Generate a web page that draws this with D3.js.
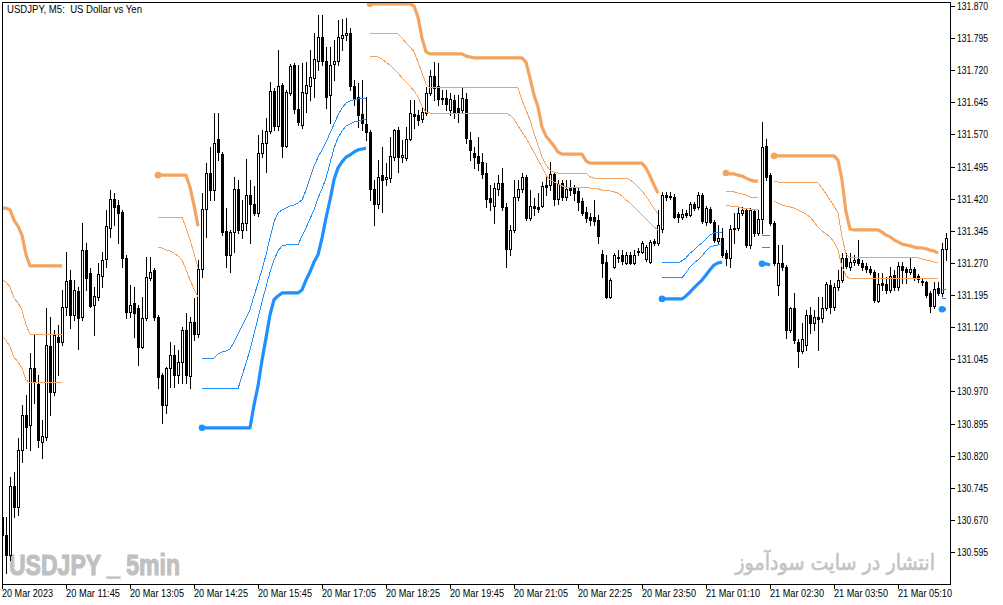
<!DOCTYPE html>
<meta charset="utf-8">
<style>

body {
  margin: 0;
  background: #fff;
}

.frame {
  fill: none;
  stroke: #000;
  stroke-width: 1;
  shape-rendering: crispEdges;
}

.wick {
  stroke: #000;
  stroke-width: 1;
  shape-rendering: crispEdges;
}

.bull {
  fill: #fff;
  stroke: #000;
  stroke-width: 1;
  shape-rendering: crispEdges;
}

.bear {
  fill: #000;
  shape-rendering: crispEdges;
}

.sell {
  fill: none;
  stroke: #f4a460;
}

.buy {
  fill: none;
  stroke: #1e90ff;
}

.thick {
  stroke-width: 3.2;
  stroke-linejoin: round;
}

.thin {
  stroke-width: 1;
  shape-rendering: crispEdges;
}

.tick {
  stroke: #000;
  shape-rendering: crispEdges;
}

.label {
  font-family: "Liberation Sans", Arial, sans-serif;
  font-size: 10px;
  fill: #000;
}

</style>

<svg id="chart" width="1003" height="605"></svg>
<script src="https://d3js.org/d3.v7.min.js"></script>

<script>

// time axis labels and the bar they sit on
var tickBars = [0, 16, 32, 48, 64, 80, 96, 112, 128, 144, 160, 176, 192, 208, 224];
var tickLabels = ["20 Mar 2023", "20 Mar 11:45", "20 Mar 13:05", "20 Mar 14:25", "20 Mar 15:45",
  "20 Mar 17:05", "20 Mar 18:25", "20 Mar 19:45", "20 Mar 21:05", "20 Mar 22:25",
  "20 Mar 23:50", "21 Mar 01:10", "21 Mar 02:30", "21 Mar 03:50", "21 Mar 05:10"];

var priceTicks = [130.595, 130.670, 130.745, 130.820, 130.895, 130.970, 131.045, 131.120, 131.195,
  131.270, 131.345, 131.420, 131.495, 131.570, 131.645, 131.720, 131.795, 131.870];

// M5 candles
var open = [130.677,130.635,130.588,130.749,130.700,130.833,130.915,130.892,131.025,130.987,
130.852,130.864,131.076,130.969,131.097,131.085,131.167,131.230,131.149,131.205,
131.144,131.300,131.247,131.172,131.191,131.240,131.279,131.352,131.419,131.405,
131.389,131.282,131.155,131.177,131.165,131.074,131.142,131.235,131.254,131.144,
131.008,130.938,131.025,131.055,131.008,131.039,131.113,131.006,131.132,131.104,
131.256,131.396,131.480,131.440,131.559,131.524,131.345,131.289,131.342,131.443,
131.347,131.363,131.429,131.408,131.387,131.527,131.550,131.578,131.672,131.590,
131.686,131.543,131.667,131.732,131.629,131.592,131.667,131.683,131.702,131.742,
131.798,131.742,131.662,131.735,131.742,131.795,131.802,131.807,131.683,131.658,
131.618,131.594,131.576,131.443,131.408,131.475,131.466,131.468,131.517,131.580,
131.517,131.515,131.559,131.618,131.615,131.606,131.620,131.667,131.707,131.683,
131.653,131.655,131.627,131.651,131.632,131.627,131.653,131.557,131.527,131.520,
131.506,131.480,131.422,131.403,131.443,131.457,131.401,131.303,131.347,131.424,
131.443,131.471,131.375,131.403,131.401,131.403,131.452,131.452,131.478,131.419,
131.457,131.424,131.447,131.447,131.438,131.415,131.389,131.377,131.377,131.370,
131.291,131.272,131.191,131.261,131.284,131.289,131.270,131.289,131.270,131.298,
131.296,131.279,131.272,131.321,131.317,131.349,131.429,131.426,131.424,131.384,
131.377,131.387,131.382,131.408,131.401,131.429,131.366,131.396,131.366,131.321,
131.328,131.293,131.282,131.349,131.352,131.387,131.394,131.312,131.391,131.340,
131.373,131.543,131.475,131.363,131.219,131.270,131.261,131.113,131.165,131.085,
131.064,131.078,131.149,131.130,131.144,131.142,131.165,131.219,131.167,131.214,
131.230,131.282,131.261,131.272,131.279,131.270,131.263,131.256,131.249,131.181,
131.223,131.221,131.207,131.242,131.214,131.263,131.256,131.249,131.256,131.240,
131.228,131.226,131.200,131.169,131.212,131.200,131.303];

var high = [130.693,130.677,130.770,130.782,130.861,130.938,130.962,131.060,131.102,131.008,
130.903,131.165,131.144,131.113,131.125,131.207,131.296,131.254,131.230,131.214,
131.363,131.317,131.258,131.214,131.270,131.296,131.394,131.440,131.433,131.417,
131.394,131.289,131.219,131.214,131.172,131.191,131.284,131.284,131.258,131.149,
131.013,131.027,131.085,131.078,131.067,131.120,131.153,131.144,131.188,131.277,
131.433,131.503,131.541,131.620,131.620,131.529,131.398,131.347,131.471,131.464,
131.417,131.513,131.464,131.450,131.569,131.580,131.608,131.693,131.679,131.767,
131.690,131.674,131.735,131.737,131.732,131.737,131.739,131.767,131.807,131.849,
131.849,131.774,131.774,131.791,131.837,131.840,131.842,131.819,131.697,131.690,
131.697,131.658,131.580,131.464,131.510,131.541,131.503,131.564,131.583,131.587,
131.557,131.587,131.651,131.651,131.627,131.634,131.681,131.721,131.739,131.737,
131.674,131.674,131.667,131.662,131.662,131.681,131.667,131.576,131.541,131.564,
131.527,131.503,131.452,131.457,131.475,131.492,131.410,131.359,131.464,131.464,
131.480,131.475,131.440,131.422,131.433,131.459,131.471,131.506,131.482,131.464,
131.464,131.464,131.464,131.452,131.447,131.422,131.401,131.387,131.417,131.382,
131.300,131.289,131.235,131.293,131.300,131.300,131.296,131.296,131.300,131.305,
131.321,131.312,131.324,131.326,131.394,131.436,131.436,131.436,131.431,131.389,
131.396,131.394,131.412,131.412,131.436,131.433,131.403,131.401,131.370,131.359,
131.352,131.300,131.359,131.387,131.401,131.401,131.398,131.398,131.396,131.394,
131.599,131.559,131.480,131.368,131.312,131.312,131.265,131.167,131.200,131.092,
131.130,131.160,131.167,131.160,131.191,131.191,131.226,131.230,131.223,131.254,
131.293,131.293,131.293,131.289,131.324,131.277,131.270,131.263,131.254,131.247,
131.247,131.237,131.261,131.254,131.272,131.272,131.261,131.282,131.261,131.244,
131.233,131.228,131.205,131.226,131.226,131.317,131.340];

var low = [130.623,130.546,130.576,130.677,130.681,130.805,130.838,130.833,130.943,130.840,
130.815,130.857,130.915,130.962,131.008,131.078,131.149,131.118,131.137,131.069,
131.137,131.207,131.167,131.102,131.184,131.214,131.261,131.331,131.359,131.317,
131.261,131.142,131.144,131.097,131.032,131.071,131.137,131.230,131.137,130.978,
130.896,130.920,130.980,130.980,130.990,130.990,130.990,130.978,131.090,131.097,
131.237,131.331,131.417,131.417,131.510,131.335,131.261,131.249,131.296,131.340,
131.328,131.347,131.317,131.382,131.380,131.517,131.482,131.573,131.580,131.580,
131.517,131.541,131.662,131.620,131.592,131.585,131.622,131.651,131.658,131.721,
131.732,131.632,131.597,131.697,131.732,131.767,131.791,131.674,131.639,131.587,
131.580,131.557,131.417,131.359,131.398,131.389,131.452,131.459,131.510,131.482,
131.506,131.510,131.557,131.585,131.592,131.599,131.615,131.662,131.651,131.639,
131.641,131.627,131.615,131.608,131.599,131.622,131.550,131.510,131.492,131.487,
131.468,131.401,131.394,131.363,131.429,131.394,131.261,131.289,131.342,131.417,
131.436,131.370,131.370,131.382,131.389,131.401,131.429,131.440,131.405,131.408,
131.417,131.417,131.429,131.417,131.394,131.382,131.366,131.359,131.359,131.317,
131.237,131.188,131.188,131.258,131.272,131.268,131.268,131.268,131.268,131.289,
131.293,131.275,131.270,131.312,131.312,131.342,131.417,131.419,131.375,131.366,
131.373,131.377,131.380,131.394,131.396,131.363,131.359,131.363,131.319,131.317,
131.284,131.265,131.261,131.317,131.347,131.382,131.307,131.305,131.333,131.335,
131.340,131.464,131.359,131.265,131.195,131.254,131.095,131.109,131.083,131.027,
131.060,131.067,131.106,131.113,131.067,131.132,131.160,131.153,131.160,131.207,
131.226,131.258,131.254,131.265,131.265,131.254,131.249,131.244,131.179,131.179,
131.207,131.200,131.202,131.207,131.207,131.223,131.223,131.244,131.230,131.226,
131.219,131.191,131.155,131.165,131.195,131.193,131.277];

var close = [130.635,130.588,130.749,130.700,130.833,130.915,130.887,131.025,130.992,130.857,
130.866,131.078,130.969,131.102,131.085,131.167,131.228,131.149,131.207,131.142,
131.300,131.235,131.170,131.193,131.244,131.277,131.356,131.419,131.401,131.387,
131.282,131.155,131.172,131.153,131.074,131.142,131.237,131.249,131.144,131.004,
130.938,131.025,131.055,131.008,131.039,131.113,131.008,131.132,131.104,131.256,
131.396,131.480,131.440,131.550,131.529,131.342,131.289,131.342,131.443,131.347,
131.363,131.429,131.408,131.387,131.527,131.550,131.578,131.672,131.590,131.683,
131.543,131.669,131.730,131.629,131.599,131.669,131.686,131.704,131.746,131.798,
131.742,131.658,131.732,131.742,131.798,131.802,131.807,131.683,131.653,131.615,
131.597,131.576,131.443,131.408,131.471,131.464,131.471,131.520,131.580,131.517,
131.522,131.559,131.620,131.613,131.604,131.622,131.667,131.707,131.679,131.653,
131.655,131.641,131.653,131.622,131.620,131.655,131.562,131.534,131.517,131.503,
131.478,131.419,131.412,131.445,131.457,131.401,131.303,131.347,131.424,131.443,
131.471,131.375,131.403,131.398,131.396,131.450,131.447,131.478,131.419,131.454,
131.424,131.443,131.440,131.433,131.412,131.387,131.375,131.370,131.368,131.333,
131.270,131.191,131.230,131.289,131.282,131.275,131.289,131.270,131.289,131.296,
131.317,131.307,131.319,131.317,131.359,131.429,131.424,131.424,131.377,131.377,
131.384,131.382,131.408,131.398,131.429,131.368,131.398,131.366,131.324,131.328,
131.289,131.282,131.349,131.352,131.387,131.394,131.312,131.394,131.340,131.373,
131.541,131.471,131.363,131.270,131.270,131.261,131.113,131.165,131.090,131.064,
131.092,131.149,131.130,131.144,131.139,131.165,131.221,131.167,131.214,131.230,
131.282,131.263,131.272,131.277,131.270,131.261,131.256,131.249,131.184,131.221,
131.219,131.207,131.240,131.214,131.263,131.254,131.249,131.256,131.237,131.233,
131.226,131.195,131.169,131.209,131.200,131.303,131.328];

// trailing levels: [first bar, values...]
var sellStop = [
  [0, [131.398,131.398,131.394,131.370,131.356,131.335,131.289,131.263,131.263,131.263,131.263,131.263,131.263,131.263,131.263,131.263]],
  [39, [131.475,131.475,131.475,131.475,131.475,131.475,131.475,131.475,131.447,131.405,131.356]],
  [92, [131.875,131.875,131.875,131.875,131.875,131.875,131.875,131.875,131.875,131.875,131.875,
        131.870,131.844,131.795,131.763,131.758,
        131.758,131.758,131.758,131.758,131.758,131.758,131.758,131.758,
        131.753,131.751,
        131.749,131.749,131.749,131.749,131.749,131.749,131.749,131.749,131.749,131.749,131.749,131.749,131.749,
        131.739,131.702,131.662,131.634,131.587,131.566,131.555,131.543,131.529,131.524,
        131.524,131.524,131.524,131.524,131.524,
        131.508,131.503,
        131.503,131.503,131.503,131.503,131.503,131.503,131.503,131.503,131.503,131.503,131.503,131.503,131.503,
        131.492,131.473,131.452,131.433]],
  [181, [131.480,131.478,131.478,131.475,131.473,131.468,131.464,131.461,131.461]],
  [193, [131.520,131.520,131.520,131.520,131.520,131.520,131.520,131.520,131.520,131.520,131.520,131.520,131.520,131.520,131.520,131.520,
         131.510,131.464,131.389,131.349,
         131.347,131.347,131.347,131.347,131.347,131.347,131.347,
         131.342,131.335,131.331,131.324,131.319,131.314,131.312,131.310,131.307,131.305,131.305,131.303,131.300,131.298,131.293]]
];

var sellLevel1 = [
  [0, [131.230,131.226,131.214,131.188,131.177,131.160,131.125,131.104,131.104,131.104,131.104,131.104,131.104,131.104,131.104,131.104]],
  [39, [131.377,131.377,131.377,131.377,131.377,131.377,131.377,131.352,131.324,131.293,131.258]],
  [92, [131.805,131.805,131.805,131.805,131.805,131.805,131.805,131.805,
        131.795,131.784,131.774,131.763,131.739,131.714,131.688,
        131.679,131.679,131.679,131.679,131.679,131.679,131.679,131.679,131.679,131.679,131.679,131.679,
        131.679,131.679,131.679,131.679,131.679,131.679,131.679,131.679,131.679,131.679,131.679,
        131.651,131.627,131.604,131.573,131.545,131.517,131.499,131.487,131.482,131.480,
        131.480,131.480,131.480,131.480,131.480,131.480,131.480,
        131.471,
        131.468,131.468,131.468,131.468,131.468,131.468,131.468,131.468,131.468,
        131.464,131.457,131.447,131.438,131.426,131.412,131.398,131.384]],
  [181, [131.436,131.436,131.436,131.433,131.431,131.429,131.424,131.422,131.422]],
  [193, [131.461,131.459,
         131.457,131.457,131.457,131.457,131.457,131.457,131.457,131.457,131.457,131.457,
         131.445,131.431,131.417,131.403,131.387,131.331,131.291,
         131.282,131.282,131.282,131.282,131.282,131.282,131.282,131.282,131.282,
         131.282,131.282,131.282,131.282,131.282,131.282,131.282,131.282,131.282,
         131.279,131.277,131.275,131.272,131.270]]
];

var sellLevel2 = [
  [0, [131.099,131.090,131.074,131.050,131.039,131.025,130.997,130.990,130.990,130.990,130.990,130.990,130.990,130.990,130.990,130.990]],
  [39, [131.307,131.305,131.300,131.298,131.293,131.286,131.277,131.254,131.230,131.209,131.191]],
  [92, [131.751,131.751,131.751,
        131.746,131.739,131.732,131.723,131.714,131.702,131.693,131.683,131.672,131.658,131.636,131.622,
        131.620,131.620,131.620,131.620,131.620,131.620,131.620,131.620,131.620,131.620,
        131.620,131.620,131.620,131.620,131.620,131.620,131.620,131.620,131.620,131.620,
        131.615,131.606,131.590,131.576,131.562,131.545,131.529,131.510,131.494,131.475,131.464,131.459,131.454,131.450,
        131.447,131.447,131.447,131.447,131.447,131.447,
        131.445,131.445,131.443,131.440,131.440,131.438,131.436,131.433,131.426,131.417,131.410,131.401,131.391,131.382,
        131.373,131.363,131.354,131.347]],
  [181, [131.403,131.403,131.401,131.401,131.398,131.398,131.396,131.394,131.394]],
  [193, [131.415,131.410,131.405,131.403,131.401,131.398,131.394,131.389,131.384,131.377,131.366,131.354,131.345,
         131.338,131.331,131.319,131.300,131.261,131.240,
         131.233,131.233,131.233,131.233,131.233,131.233,131.233,131.233,131.233,131.233,131.233,131.233,
         131.233,131.233,131.233,131.233,131.233,131.233,131.233,131.233,131.233,131.233,131.233]]
];

var buyStop = [
  [50, [130.885,130.885,130.885,130.885,130.885,130.885,130.885,130.885,130.885,130.885,130.885,130.885,130.885,
        130.938,130.983,131.043,131.095,131.149,131.184,131.193,
        131.200,131.200,131.200,131.200,131.200,
        131.207,131.230,131.249,131.272,131.289,131.328,131.375,131.417,131.464,131.492,131.506,131.517,
        131.522,131.529,131.534,131.536,131.538]],
  [165, [131.186,131.186,131.186,131.186,131.186,131.186,131.193,131.202,131.212,131.221,131.230,131.242,
         131.254,131.265,131.270,131.272]],
  [190, [131.268,131.268,131.265]],
  [235, [131.162,131.162]]
];

var buyLevel1 = [
  [50, [131.046,131.046,131.046,131.048,131.057,131.062,131.064,131.069,131.085,131.104,131.123,131.142,131.160,
        131.193,131.223,131.254,131.289,131.328,131.366,131.387,131.394,131.398,131.403,131.405,131.410,131.417,
        131.440,131.468,131.496,131.517,131.534,131.552,131.573,131.594,131.615,131.632,131.643,131.648,131.651,
        131.653,131.653,131.653]],
  [165, [131.270,131.270,131.270,131.270,131.270,131.275,131.282,131.293,131.300,131.310,131.317,131.326,
         131.335,131.340,131.342,131.342]],
  [190, [131.335,131.335,131.335]],
  [235, [131.209,131.209]]
];

var buyLevel2 = [
  [50, [130.976,130.976,130.976,130.976,130.976,130.976,130.976,130.976,130.976,130.976,
        131.006,131.036,131.067,131.104,131.142,131.179,131.214,131.249,131.277,131.298,131.310,
        131.312,131.312,131.312,131.312,131.333,131.352,131.373,131.394,131.422,131.443,131.468,
        131.503,131.538,131.562,131.578,131.590,131.594,131.599,131.601,131.604,131.604]],
  [165, [131.235,131.235,131.235,131.235,131.235,131.235,131.247,131.261,131.270,131.277,131.286,131.298,
         131.307,131.310,131.312,131.312]],
  [190, [131.305,131.305,131.305]],
  [235, [131.188,131.188]]
];


var svg = d3.select("#chart"),
    width = +svg.attr("width"),
    height = +svg.attr("height");

var plotLeft = 2, plotTop = 2, plotRight = 950, plotBottom = 584;

var x = d3.scaleLinear().domain([0, open.length - 1]).range([2, 946]);
var y = d3.scaleLinear().domain([130.595, 131.870]).range([552, 6]);

svg.append("rect").attr("width", width).attr("height", height).attr("fill", "#fff");

svg.append("clipPath").attr("id", "plot-clip")
  .append("rect")
    .attr("x", plotLeft).attr("y", plotTop)
    .attr("width", plotRight - plotLeft).attr("height", plotBottom - plotTop);

var plot = svg.append("g").attr("clip-path", "url(#plot-clip)");

// watermarks sit under everything
plot.append("text")
    .attr("x", 9).attr("y", 575)
    .attr("textLength", 171).attr("lengthAdjust", "spacingAndGlyphs")
    .style("font-family", "'Liberation Sans Narrow', 'Liberation Sans', Arial, sans-serif")
    .style("font-weight", "bold")
    .style("font-size", "30px")
    .style("fill", "#c0c0c0")
    .style("stroke", "#c0c0c0")
    .style("stroke-width", "1.2px")
    .text("USDJPY _ 5min");

plot.append("text")
    .attr("transform", "translate(935,570) scale(0.87,1)")
    .attr("text-anchor", "end")
    .style("font-family", "'DejaVu Sans', sans-serif")
    .style("font-size", "22px")
    .style("fill", "#c4c4c4")
    .style("stroke", "#c4c4c4")
    .style("stroke-width", "0.6px")
    .text("انتشار در سایت سودآموز");

// candles
var bars = d3.range(open.length);
var candles = plot.append("g");

candles.selectAll(".wick")
  .data(bars)
  .enter().append("line")
    .attr("class", "wick")
    .attr("x1", function(i) { return Math.round(x(i)) + 0.5; })
    .attr("x2", function(i) { return Math.round(x(i)) + 0.5; })
    .attr("y1", function(i) { return Math.round(y(high[i])); })
    .attr("y2", function(i) { return Math.round(y(low[i])) + 1; });

candles.selectAll(".body")
  .data(bars)
  .enter().append("rect")
    .attr("class", function(i) { return close[i] >= open[i] ? "body bull" : "body bear"; })
    .attr("x", function(i) {
      var cx = Math.round(x(i));
      return close[i] >= open[i] ? cx - 0.5 : cx - 1;
    })
    .attr("y", function(i) {
      var t = Math.round(y(Math.max(open[i], close[i])));
      return close[i] >= open[i] ? t + 0.5 : t;
    })
    .attr("width", function(i) { return close[i] >= open[i] ? 2 : 3; })
    .attr("height", function(i) {
      var t = Math.round(y(Math.max(open[i], close[i]))),
          b = Math.round(y(Math.min(open[i], close[i])));
      return close[i] >= open[i] ? Math.max(b - t, 0) : Math.max(b - t + 1, 1);
    });

// indicator lines
var line = d3.line()
    .x(function(d) { return x(d[0]); })
    .y(function(d) { return y(d[1]); });

function drawLevels(segs, cls, withDot) {
  var g = plot.append("g");
  segs.forEach(function(s) {
    var pts = s[1].map(function(v, k) { return [s[0] + k, v]; });
    g.append("path")
      .attr("class", cls)
      .attr("d", line(pts));
    if (withDot && s[0] > 0) {
      g.append("circle")
        .attr("cx", x(pts[0][0]))
        .attr("cy", y(pts[0][1]))
        .attr("r", 3.3)
        .attr("fill", cls.indexOf("sell") >= 0 ? "#f4a460" : "#1e90ff");
    }
  });
}

drawLevels(sellLevel1, "sell thin", false);
drawLevels(sellLevel2, "sell thin", false);
drawLevels(buyLevel1, "buy thin", false);
drawLevels(buyLevel2, "buy thin", false);
drawLevels(sellStop, "sell thick", true);
drawLevels(buyStop, "buy thick", true);

// title
svg.append("text")
    .attr("class", "label")
    .attr("x", 7).attr("y", 13)
    .attr("textLength", 135).attr("lengthAdjust", "spacingAndGlyphs")
    .style("white-space", "pre")
    .text("USDJPY, M5:  US Dollar vs Yen");

// frame
svg.append("rect")
    .attr("class", "frame")
    .attr("x", plotLeft + 0.5).attr("y", plotTop + 0.5)
    .attr("width", plotRight - plotLeft).attr("height", plotBottom - plotTop);

// price axis
var yAxis = svg.append("g");
priceTicks.forEach(function(p) {
  var ty = Math.round(y(p)) + 0.5;
  yAxis.append("line").attr("class", "tick")
    .attr("x1", plotRight).attr("x2", plotRight + 5)
    .attr("y1", ty).attr("y2", ty);
  yAxis.append("text").attr("class", "label")
    .attr("x", 957).attr("y", ty + 3.5)
    .attr("textLength", 31).attr("lengthAdjust", "spacingAndGlyphs")
    .text(p.toFixed(3));
});

// time axis
var xAxis = svg.append("g");
tickBars.forEach(function(b, k) {
  var tx = Math.round(x(b)) + 0.5;
  xAxis.append("line").attr("class", "tick")
    .attr("x1", tx).attr("x2", tx)
    .attr("y1", plotBottom).attr("y2", plotBottom + 5);
  xAxis.append("text").attr("class", "label")
    .attr("x", tx - 0.5).attr("y", 597)
    .attr("textLength", k == 0 ? 51 : 54).attr("lengthAdjust", "spacingAndGlyphs")
    .text(tickLabels[k]);
});

</script>
